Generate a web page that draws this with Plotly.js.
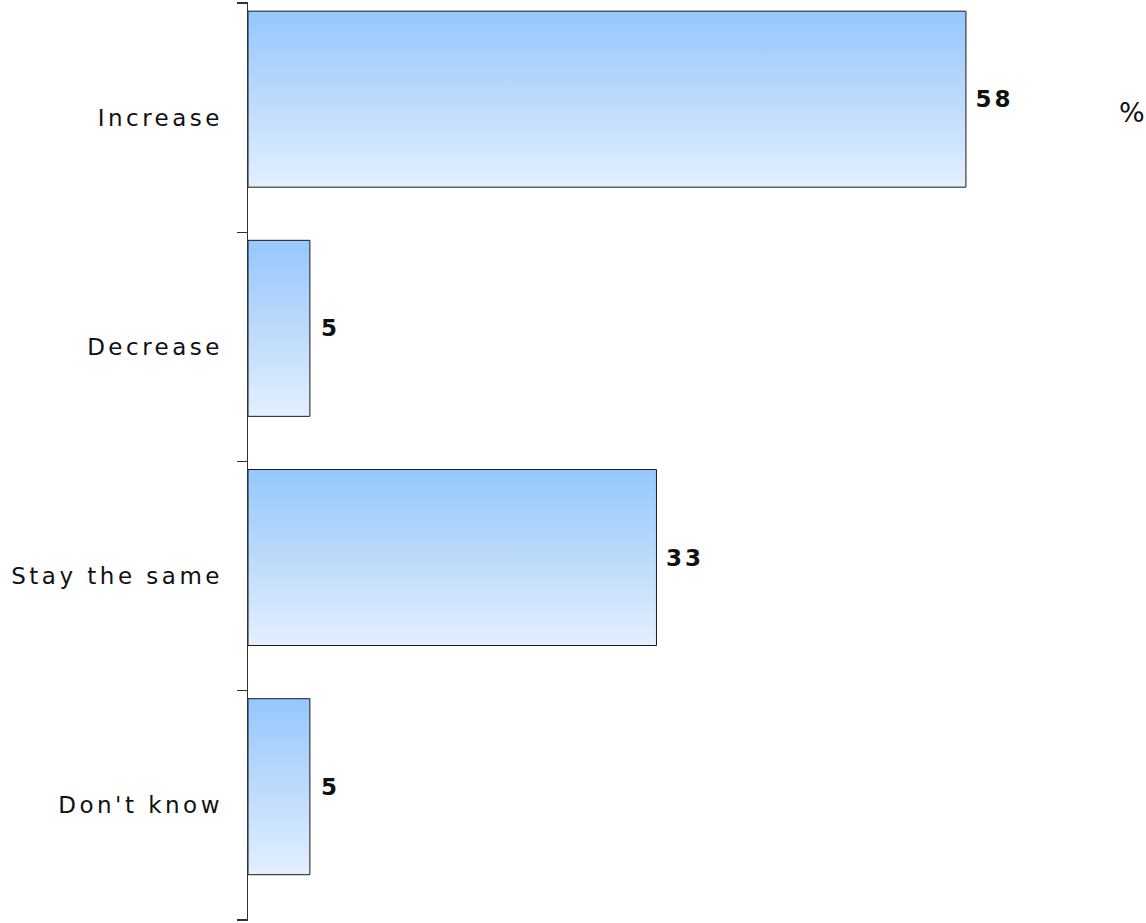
<!DOCTYPE html>
<html>
<head>
<meta charset="utf-8">
<script src="https://cdn.plot.ly/plotly-3.0.1.min.js"></script>
<style>
  html, body { margin: 0; padding: 0; background: #fff; }
  #chart { width: 1146px; height: 923px; }
  #chart .ytick text { letter-spacing: 3.5px; }
  #chart .bartext { letter-spacing: 3px; }
</style>
</head>
<body>
<div id="chart"></div>
<script>
const categories = ["Increase", "Decrease", "Stay the same", "Don't know"];
const values = [58, 5, 33, 5];
const unitLabel = "%";

// category boundaries (between categories and at both ends) for the tick marks
const boundaries = [];
for (let i = 0; i <= categories.length; i++) boundaries.push(i - 0.5);
const yRange = [categories.length - 0.5 + 0.005, -0.505];

const trace = {
  type: "bar",
  orientation: "h",
  y: categories,
  x: values,
  width: 0.768,
  offset: -0.465,
  marker: { color: "#b8d9fc", line: { color: "#1a1a1a", width: 1 } },
  text: values.map(v => String(v)),
  texttemplate: " %{text}",
  textposition: "outside",
  cliponaxis: false,
  textfont: { family: "DejaVu Sans", size: 23, color: "#111", weight: "bold" },
  hoverinfo: "none"
};

// invisible helper trace so the tick axis is drawn
const tickTrace = {
  type: "scatter",
  mode: "markers",
  x: [0],
  y: [boundaries[0]],
  yaxis: "y2",
  marker: { opacity: 0 },
  hoverinfo: "none",
  showlegend: false
};

const layout = {
  width: 1146,
  height: 923,
  margin: { l: 248, r: 46, t: 2, b: 2 },
  paper_bgcolor: "#ffffff",
  plot_bgcolor: "#ffffff",
  showlegend: false,
  font: { family: "DejaVu Sans", size: 23, color: "#111" },
  xaxis: {
    visible: false,
    range: [0, 68.83],
    fixedrange: true
  },
  yaxis: {
    type: "category",
    range: yRange,
    showline: false,
    ticks: "",
    showgrid: false,
    zeroline: false,
    ticklabelstandoff: 24,
    tickfont: { family: "DejaVu Sans", size: 23, color: "#111" }
  },
  yaxis2: {
    type: "linear",
    overlaying: "y",
    side: "left",
    range: yRange,
    tickmode: "array",
    tickvals: boundaries,
    showticklabels: false,
    showline: true,
    linecolor: "#333",
    linewidth: 1.5,
    ticks: "outside",
    ticklen: 10,
    tickwidth: 1.5,
    tickcolor: "#333",
    showgrid: false,
    zeroline: false
  },
  annotations: [{
    text: unitLabel,
    xref: "paper", yref: "paper",
    x: 1.037, y: 0.88,
    xanchor: "center", yanchor: "middle",
    showarrow: false,
    font: { family: "DejaVu Sans", size: 27, color: "#111" }
  }]
};

Plotly.newPlot("chart", [trace, tickTrace], layout, { staticPlot: true }).then(gd => {
  const svg = gd.querySelector(".main-svg");
  const ns = "http://www.w3.org/2000/svg";
  let defs = svg.querySelector("defs");
  if (!defs) { defs = document.createElementNS(ns, "defs"); svg.insertBefore(defs, svg.firstChild); }
  const grad = document.createElementNS(ns, "linearGradient");
  grad.setAttribute("id", "barGrad");
  grad.setAttribute("x1", "0"); grad.setAttribute("y1", "0");
  grad.setAttribute("x2", "0"); grad.setAttribute("y2", "1");
  [["0", "#95c8fd"], ["0.5", "#bcdafb"], ["1", "#e3f0ff"]].forEach(([o, c]) => {
    const s = document.createElementNS(ns, "stop");
    s.setAttribute("offset", o); s.setAttribute("stop-color", c);
    grad.appendChild(s);
  });
  defs.appendChild(grad);
  gd.querySelectorAll(".bars .point path").forEach(p => { p.style.fill = "url(#barGrad)"; });
});
</script>
</body>
</html>
